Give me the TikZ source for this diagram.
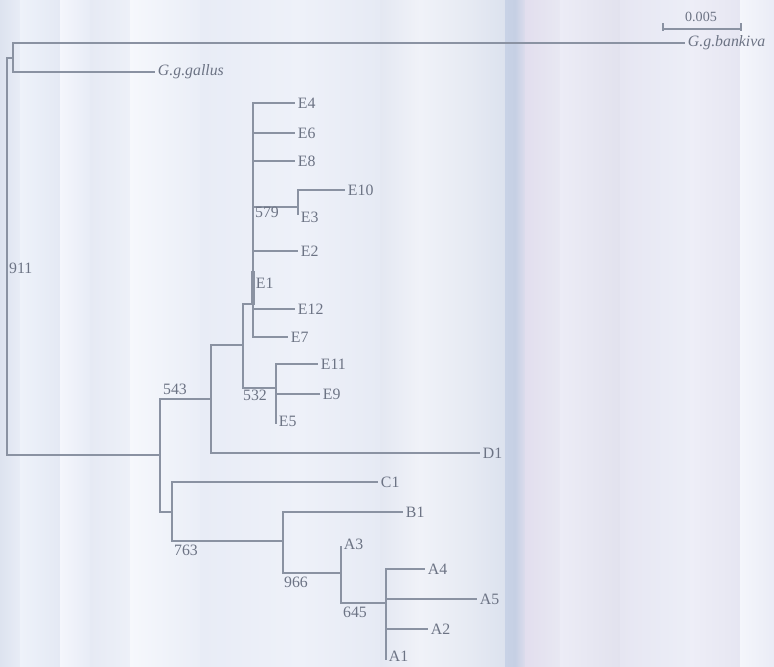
\documentclass[tikz,border=0pt]{standalone}
\usepackage{fontspec}
\setmainfont{Liberation Serif}
\definecolor{branch}{HTML}{8A92A2}
\definecolor{labtext}{HTML}{6C7384}
\definecolor{scanbase}{HTML}{E8ECF5}
\tikzset{
  edge/.style={draw=branch, line width=1.1pt},
  leaf/.style={anchor=west, inner sep=1.5pt, text=labtext, font=\fontsize{9}{10}\selectfont},
  boot/.style={inner sep=1pt, text=labtext, font=\fontsize{9}{10}\selectfont},
  species/.style={leaf, font=\fontsize{9}{10}\selectfont\itshape}
}
\begin{document}
\begin{tikzpicture}[x=0.02cm, y=-0.02cm]
\useasboundingbox (0,0) rectangle (774,666);
% scanned background
\fill[scanbase] (0,0) rectangle (774,666);
\foreach \xa/\xb/\ca/\cb in {0/20/DDE3EF/E8ECF6, 20/60/EEF2FA/E4E9F4, 60/90/F4F6FC/E8ECF6,
  90/130/E6EAF4/EDF0F8, 130/200/F6F8FC/EAEEF7, 200/300/E8ECF6/EEF1F9, 300/380/EEF1F9/E6EAF4,
  380/420/E4E8F2/F0F2F8, 420/470/F0F2F8/E6EAF3, 470/505/E6EAF3/DCE2EE, 505/515/C8D2E6/C6D0E4,
  515/525/C6D0E4/DCDCEC, 525/560/E2DEEE/E8E8F2, 560/620/ECECF6/E2E2EE, 620/690/E6E6F2/ECEEF7,
  690/740/EEEEF7/E6E6F2, 740/774/F4F6FB/EAECF6}
{
  \definecolor{stripeleft}{HTML}{\ca}
  \definecolor{striperight}{HTML}{\cb}
  \shade[left color=stripeleft, right color=striperight] (\xa,0) rectangle (\xb,666);
}

% internal nodes
\coordinate (r911) at (7,256);
\coordinate (ngg) at (13,58);
\coordinate (n543) at (160,455);
\coordinate (nE) at (211,399);
\coordinate (nEE) at (243,345);
\coordinate (eMain) at (253,304);
\coordinate (n579) at (298,207);
\coordinate (n532) at (276,388);
\coordinate (n763) at (172,512);
\coordinate (n966) at (283,541);
\coordinate (n645) at (341,573);
\coordinate (nA) at (386,603);

% leaves
\node[species] (bankiva) at (685,43) {G.g.bankiva};
\node[species] (gallus) at (155,72) {G.g.gallus};
\node[leaf] (E4) at (295,103) {E4};
\node[leaf] (E6) at (295,133) {E6};
\node[leaf] (E8) at (295,161) {E8};
\node[leaf] (E10) at (345,190) {E10};
\node[leaf] (E3) at (298,217) {E3};
\node[leaf] (E2) at (298,251) {E2};
\node[leaf] (E1) at (253,283) {E1};
\node[leaf] (E12) at (295,309) {E12};
\node[leaf] (E7) at (288,337) {E7};
\node[leaf] (E11) at (318,364) {E11};
\node[leaf] (E9) at (320,394) {E9};
\node[leaf] (E5) at (276,421) {E5};
\node[leaf] (D1) at (480,453) {D1};
\node[leaf] (C1) at (378,482) {C1};
\node[leaf] (B1) at (403,512) {B1};
\node[leaf] (A3) at (341,544) {A3};
\node[leaf] (A4) at (425,569) {A4};
\node[leaf] (A5) at (477,599) {A5};
\node[leaf] (A2) at (428,629) {A2};
\node[leaf] (A1) at (386,656) {A1};

% branches
\draw[edge] (r911) |- (ngg);
\draw[edge] (r911) |- (n543);
\draw[edge] (ngg) |- (bankiva.west);
\draw[edge] (ngg) |- (gallus.west);
\draw[edge] (n543) |- (nE);
\draw[edge] (n543) |- (n763);
\draw[edge] (nE) |- (nEE);
\draw[edge] (nE) |- (D1.west);
\draw[edge] (nEE) |- (eMain);
\draw[edge] (nEE) |- (n532);
\foreach \leafname in {E4,E6,E8,E2,E12,E7}
  \draw[edge] (eMain) |- (\leafname.west);
\draw[edge] (eMain) |- (n579);
\draw[draw=branch, line width=2.4pt] (253,271) -- (253,305);
\draw[edge] (n579) |- (E10.west);
\draw[edge] (n579) -- (298,215);
\draw[edge] (n532) |- (E11.west);
\draw[edge] (n532) |- (E9.west);
\draw[edge] (n532) -- (276,424);
\draw[edge] (n763) |- (C1.west);
\draw[edge] (n763) |- (n966);
\draw[edge] (n966) |- (B1.west);
\draw[edge] (n966) |- (n645);
\draw[edge] (n645) -- (341,546);
\draw[edge] (n645) |- (nA);
\foreach \leafname in {A4,A5,A2}
  \draw[edge] (nA) |- (\leafname.west);
\draw[edge] (nA) -- (386,660);

% bootstrap values
\node[boot, anchor=west] at (7,268) {911};
\node[boot, anchor=south west] at (161,397) {543};
\node[boot, anchor=west] at (253,212) {579};
\node[boot, anchor=north west] at (241,388) {532};
\node[boot, anchor=north west] at (172,543) {763};
\node[boot, anchor=north west] at (282,575) {966};
\node[boot, anchor=north west] at (341,605) {645};

% scale bar
\coordinate (sbl) at (663,29);
\coordinate (sbr) at (741,29);
\draw[edge, line width=0.8pt] (sbl) -- (sbr);
\draw[edge, line width=0.6pt] (663,23) -- (663,31) (741,23) -- (741,31);
\node[boot, font=\fontsize{8}{9}\selectfont] at (701,17) {0.005};
\end{tikzpicture}
\end{document}
